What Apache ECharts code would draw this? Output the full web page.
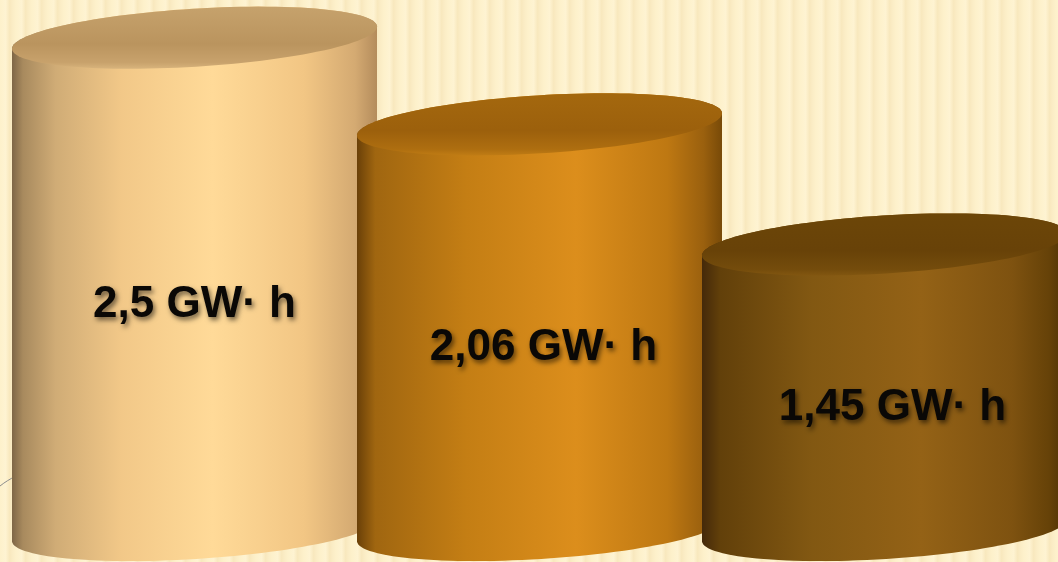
<!DOCTYPE html>
<html><head><meta charset="utf-8">
<script src="https://cdn.jsdelivr.net/npm/echarts@6/dist/echarts.min.js"></script>
<style>html,body{margin:0;padding:0;background:#FDF1CB}#c{width:1058px;height:562px}</style>
</head><body><div id="c"></div>
<script>
// ---- data ----
const categories = ['A', 'B', 'C'];
const values = [2.5, 2.06, 1.45];
const labels = ['2,5 GW\u00B7 h', '2,06 GW\u00B7 h', '1,45 GW\u00B7 h'];

// ---- styles ----
const bodyStops = [
  [[0,'#7E6646'],[0.03,'#A88A5E'],[0.12,'#D0AC76'],[0.3,'#F2C888'],[0.55,'#FFDA98'],[0.8,'#F2C684'],[0.94,'#D4AA72'],[1,'#B48C5C']],
  [[0,'#6A4008'],[0.05,'#A06610'],[0.3,'#C47E14'],[0.6,'#DC8E1C'],[0.85,'#BE7812'],[0.95,'#9A600E'],[1,'#784A08']],
  [[0,'#44290A'],[0.05,'#62400A'],[0.3,'#825812'],[0.6,'#946216'],[0.85,'#7E5210'],[0.95,'#664208'],[1,'#4C3006']]
];
const topStops = [
  [[0,'#C6A26C'],[0.6,'#BA945E'],[0.9,'#C8A26C'],[1,'#D8B47C']],
  [[0,'#A4680E'],[0.6,'#9C600C'],[0.9,'#AE6E10'],[1,'#C07C14']],
  [[0,'#6C4608'],[0.6,'#684208'],[0.9,'#744C0C'],[1,'#825610']]
];

function grad(stops, vertical) {
  return new echarts.graphic.LinearGradient(0, 0, vertical ? 0 : 1, vertical ? 1 : 0,
    stops.map(s => ({offset: s[0], color: s[1]})));
}

// stripe pattern for the background
const pc = document.createElement('canvas');
pc.width = 16; pc.height = 8;
const g = pc.getContext('2d');
const lg = g.createLinearGradient(0, 0, 16, 0);
lg.addColorStop(0, '#FDF1CB');
lg.addColorStop(0.35, '#FEF3D2');
lg.addColorStop(0.6, '#F8E8BE');
lg.addColorStop(0.8, '#FBEDC6');
lg.addColorStop(1, '#FDF1CB');
g.fillStyle = lg; g.fillRect(0, 0, 16, 8);

const RY = 29, TILT = 0.062;
function ellPt(cx, cy, rx, ry, t) {
  const c = Math.cos(t), s = Math.sin(t), ct = Math.cos(TILT), st = Math.sin(TILT);
  return [cx + rx * c * ct + ry * s * st, cy - rx * c * st + ry * s * ct];
}

function renderItem(params, api) {
  const i = params.dataIndex;
  const v = api.value(1);
  const top = api.coord([api.value(0), v]);
  const base = api.coord([api.value(0), 0]);
  const bw = api.size([1, 0])[0];
  const rx = bw * 1.06 / 2;
  const cx = top[0];
  const N = 60;
  const body = [];
  for (let k = 0; k <= N; k++) body.push(ellPt(cx, top[1], rx, RY, Math.PI + Math.PI * k / N));
  for (let k = 0; k <= N; k++) body.push(ellPt(cx, base[1], rx, RY, Math.PI * k / N));
  const lid = [];
  for (let k = 0; k < 2 * N; k++) lid.push(ellPt(cx, top[1], rx, RY, 2 * Math.PI * k / (2 * N)));
  const ly = (top[1] + base[1]) / 2 + 21;
  return {
    type: 'group',
    children: [
      {type: 'polygon', shape: {points: body}, style: {fill: grad(bodyStops[i], false)}},
      {type: 'polygon', shape: {points: lid}, style: {fill: grad(topStops[i], true)}},
      {type: 'text', style: {
        text: labels[i], x: cx + i * 4, y: ly, align: 'center', verticalAlign: 'middle',
        font: 'bold 44px "Liberation Sans", Arial, sans-serif', fill: '#0A0806',
        textShadowColor: 'rgba(0,0,0,0.55)', textShadowBlur: 5,
        textShadowOffsetX: 2, textShadowOffsetY: 3
      }}
    ]
  };
}

const chart = echarts.init(document.getElementById('c'));
chart.setOption({
  animation: false,
  graphic: [{
    type: 'rect', z: -10, silent: true,
    shape: {x: 0, y: 0, width: 1058, height: 562},
    style: {fill: {image: pc, repeat: 'repeat'}}
  }, {
    type: 'bezierCurve', z: -9, silent: true,
    shape: {x1: 0, y1: 486, cpx1: 5, cpy1: 482, cpx2: 10, cpy2: 479, x2: 16, y2: 476},
    style: {stroke: '#8C8C8C', lineWidth: 1, fill: null}
  }],
  grid: {left: 22, right: 1, top: 18, bottom: 32},
  xAxis: {type: 'category', data: categories, show: false},
  yAxis: {type: 'value', min: 0, max: 2.6, show: false},
  series: [{
    type: 'custom',
    renderItem: renderItem,
    clip: false,
    data: values.map((v, i) => [i, v])
  }]
});
</script></body></html>
